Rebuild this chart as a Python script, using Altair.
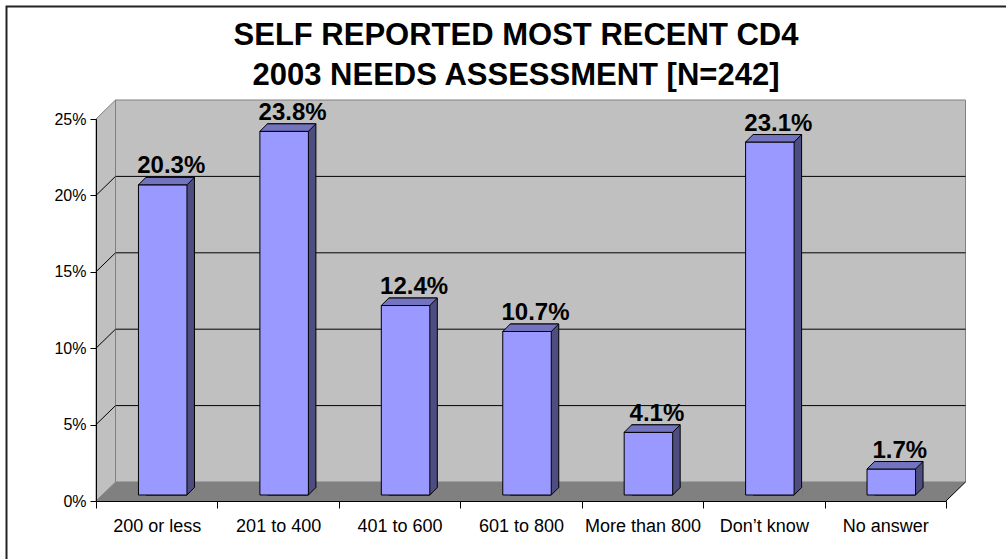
import altair as alt
import pandas as pd

# ---- data ----
categories = ["200 or less", "201 to 400", "401 to 600", "601 to 800",
              "More than 800", "Don\u2019t know", "No answer"]
values = [20.3, 23.8, 12.4, 10.7, 4.1, 23.1, 1.7]
y_ticks = [0, 5, 10, 15, 20, 25]
grid_levels = [5, 10, 15, 20]
title_lines = ["SELF REPORTED MOST RECENT CD4", "2003 NEEDS ASSESSMENT [N=242]"]

# ---- style / geometry constants ----
FONT = "Liberation Sans"
W, H = 850, 382
WALL_DX, WALL_DY = 19.5, 19          # depth of the 3-D walls
BAR_W = 48.5
BAR_DX, BAR_DY = 6, 6                # front face of bars inside the floor depth
DEPTH = 7.5                          # bar depth
FRONT, SIDE, TOP = "#9999ff", "#4d4d80", "#7373c0"
WALL, FLOOR, EDGE = "#c0c0c0", "#808080", "#808080"

df = pd.DataFrame({"cat": categories, "pct": values})
df["label"] = [f"{v:.1f}%" for v in values]
df["zero"] = 0
grid_df = pd.DataFrame({"t": grid_levels})
frame_df = pd.DataFrame({"top": [max(y_ticks)], "bot": [0]})
title_df = pd.DataFrame({"line": title_lines})

ysc = alt.Scale(domain=[min(y_ticks), max(y_ticks)], nice=False)
xsc = alt.Scale(domain=categories, paddingInner=0, paddingOuter=0)

X_AXIS = alt.Axis(
    title=None, labelAngle=0, tickBand="extent", tickSize=7, labelPadding=9,
    labelFont=FONT, labelFontSize=18, labelColor="black", labelBaseline="top",
    domainColor="black", tickColor="black", domainWidth=1, tickWidth=1,
    grid=False, zindex=1)
Y_AXIS = alt.Axis(
    values=y_ticks, labelExpr="datum.value + '%'", title=None, tickSize=6,
    labelPadding=4, labelFont=FONT, labelFontSize=16, labelColor="black",
    domainColor="black", tickColor="black", domainWidth=1, tickWidth=1,
    grid=False, zindex=1)


def xenc():
    return alt.X("cat:N", scale=xsc, sort=categories, axis=X_AXIS)


def yenc(field):
    return alt.Y(f"{field}:Q", scale=ysc, axis=Y_AXIS)


# ---- walls and floor ----
back_wall = alt.Chart(frame_df).mark_rect(
    fill=WALL, stroke=EDGE, strokeWidth=1, yOffset=-WALL_DY, y2Offset=-WALL_DY
).encode(x=alt.value(WALL_DX), x2=alt.value(W + WALL_DX), y=yenc("top"), y2="bot:Q")

floor_path = f"M 0 0 L {WALL_DX} {-WALL_DY} L {W + WALL_DX} {-WALL_DY} L {W} 0 Z"
floor = alt.Chart(frame_df).mark_point(
    shape=floor_path, size=4, filled=True, fill=FLOOR, strokeWidth=0, opacity=1
).encode(x=alt.value(0), y=yenc("bot"))

side_path = f"M 0 0 L {WALL_DX} {-WALL_DY} L {WALL_DX} {-(H + WALL_DY)} L 0 {-H} Z"
side_wall = alt.Chart(frame_df).mark_point(
    shape=side_path, size=4, filled=True, fill=WALL, stroke=EDGE, strokeWidth=1, opacity=1
).encode(x=alt.value(0), y=yenc("bot"))

grid_back = alt.Chart(grid_df).mark_rule(color="black", strokeWidth=1, yOffset=-WALL_DY).encode(
    x=alt.value(WALL_DX), x2=alt.value(W + WALL_DX), y=yenc("t"))
grid_side = alt.Chart(grid_df).mark_rule(color="black", strokeWidth=1, y2Offset=-WALL_DY).encode(
    x=alt.value(0), x2=alt.value(WALL_DX), y=yenc("t"), y2="t:Q")
floor_edge = alt.Chart(frame_df).mark_rule(color="black", strokeWidth=1, y2Offset=-WALL_DY).encode(
    x=alt.value(W), x2=alt.value(W + WALL_DX), y=yenc("bot"), y2="bot:Q")

# ---- 3-D bars ----
base = alt.Chart(df)
bar_back = base.mark_bar(
    width=BAR_W, fill=SIDE, stroke="black", strokeWidth=1,
    xOffset=BAR_DX + DEPTH, yOffset=-(BAR_DY + DEPTH), y2Offset=-BAR_DY
).encode(x=xenc(), y=yenc("pct"), y2="zero:Q")

h = BAR_W / 2
foot_path = (f"M {h} 0 L {h + DEPTH} {-DEPTH} L {h + DEPTH + 1} {-DEPTH} "
             f"L {h + DEPTH + 1} 1 L {h} 1 Z")
bar_foot = base.mark_point(
    shape=foot_path, size=4, filled=True, fill=FLOOR, strokeWidth=0, opacity=1,
    xOffset=BAR_DX, yOffset=-BAR_DY
).encode(x=xenc(), y=yenc("zero"))
bar_foot_edge = base.mark_point(
    shape=f"M {h} 0 L {h + DEPTH} {-DEPTH}", size=4, filled=False, color="black",
    strokeWidth=1, opacity=1, xOffset=BAR_DX, yOffset=-BAR_DY
).encode(x=xenc(), y=yenc("zero"))

bar_front = base.mark_bar(
    width=BAR_W, fill=FRONT, stroke="black", strokeWidth=1,
    xOffset=BAR_DX, yOffset=-BAR_DY, y2Offset=-BAR_DY
).encode(x=xenc(), y=yenc("pct"), y2="zero:Q")

top_path = f"M {-h} 0 L {h} 0 L {h + DEPTH} {-DEPTH} L {-h + DEPTH} {-DEPTH} Z"
bar_top = base.mark_point(
    shape=top_path, size=4, filled=True, fill=TOP, stroke="black", strokeWidth=1,
    opacity=1, xOffset=BAR_DX, yOffset=-BAR_DY
).encode(x=xenc(), y=yenc("pct"))

value_labels = base.mark_text(
    font=FONT, fontSize=24, fontWeight="bold", color="black", baseline="alphabetic",
    dx=14.5, dy=-(BAR_DY + 11.5)
).encode(x=xenc(), y=yenc("pct"), text="label:N")

# ---- title and frame ----
title1 = alt.Chart(title_df.iloc[[0]]).mark_text(
    font=FONT, fontSize=31, fontWeight="bold", color="black", baseline="alphabetic", align="center"
).encode(x=alt.value(420), y=alt.value(-74), text="line:N")
title2 = alt.Chart(title_df.iloc[[1]]).mark_text(
    font=FONT, fontSize=31, fontWeight="bold", color="black", baseline="alphabetic", align="center"
).encode(x=alt.value(420), y=alt.value(-34), text="line:N")

border = alt.Chart(frame_df).mark_rect(
    fillOpacity=0, stroke="#222222", strokeWidth=2
).encode(x=alt.value(-89.5), x2=alt.value(1006 - 96 + 20),
         y=alt.value(-112.5), y2=alt.value(559 - 119 + 20))

chart = alt.layer(
    border, back_wall, grid_back, floor, side_wall, grid_side, floor_edge,
    bar_back, bar_foot, bar_foot_edge, bar_front, bar_top, value_labels,
    title1, title2
).properties(
    width=W, height=H,
    padding={"left": 96, "top": 119, "right": 60, "bottom": 58},
    autosize=alt.AutoSizeParams(type="none"),
    background="white",
).configure_view(strokeWidth=0)

chart.save("out.html", embed_options={"renderer": "svg", "actions": False})
